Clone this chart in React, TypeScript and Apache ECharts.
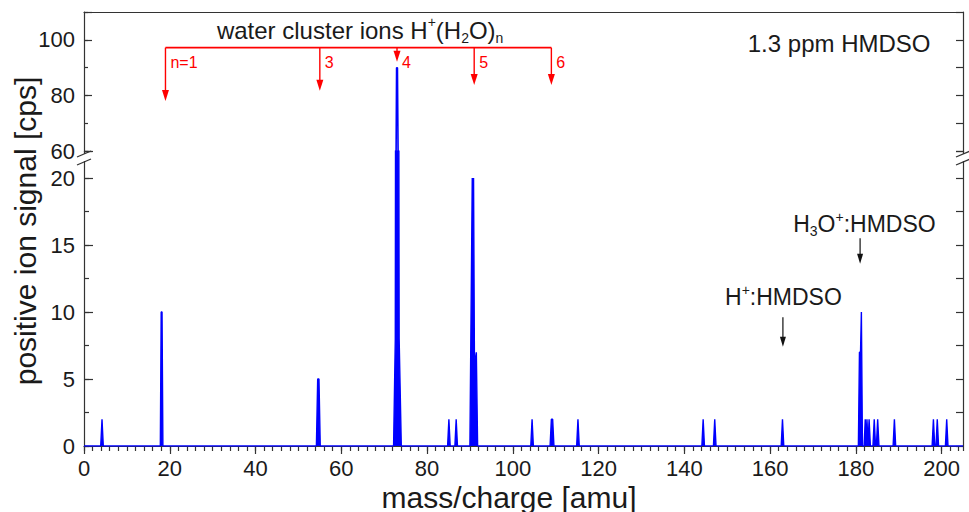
import React, { useEffect, useRef } from 'react';
import * as echarts from 'echarts';

// Spectrum: mass/charge [amu] and positive ion signal [cps]
const massPoints = [
  0, 3.9, 4.2, 4.5, 17.8, 18.0, 18.2, 18.4, 54.2, 54.5, 54.8, 55.1,
  72.2, 72.6, 72.9, 73.1, 73.5, 74.0, 84.8, 85.1, 85.4, 86.5, 86.8, 87.1,
  90.0, 90.55, 90.7, 90.85, 91.05, 91.3, 91.5, 91.8, 104.2, 104.5, 104.8,
  108.7, 109.0, 109.3, 109.6, 114.9, 115.2, 115.5, 144.1, 144.4, 144.7,
  146.8, 147.1, 147.4, 162.6, 162.9, 163.2, 180.6, 180.85, 181.1, 181.3,
  181.55, 181.95, 182.2, 182.4, 182.6, 182.85, 183.1, 183.4, 184.0, 184.3,
  184.6, 184.8, 185.1, 185.4, 188.7, 189.0, 189.3, 197.8, 198.1, 198.4,
  198.7, 199.0, 199.3, 200.9, 201.2, 201.5, 205,
];
const signalPoints = [
  0, 0, 2, 0, 0, 10, 10, 0, 0, 5, 5, 0,
  0, 8, 90, 90, 8, 0, 0, 2, 0, 0, 2, 0,
  0, 20, 17, 20, 7, 6, 7, 0, 0, 2, 0,
  0, 2, 2, 0, 0, 2, 0, 0, 2, 0,
  0, 2, 0, 0, 2, 0, 0, 7, 7, 10,
  0, 0, 2, 0, 2, 0, 2, 0, 0, 2,
  0, 0, 2, 0, 0, 2, 0, 0, 2, 0,
  0, 2, 0, 0, 2, 0, 0,
];

// Water cluster annotation H+(H2O)n
const clusterMass = [19, 55, 73, 91, 109];
const clusterLabels = ['n=1', '3', '4', '5', '6'];
const clusterArrowTip = [78, 81.7, 92.1, 83.8, 83.8];
const clusterBracketLevel = 97.2;
const clusterLabelLevel = 92;

// HMDSO adduct annotations (lower panel)
const adductMass = [181, 163];
const adductArrowTop = [15.5, 9.6];
const adductArrowTip = [13.6, 7.4];
const adductLabelMass = [165.4, 149.5];
const adductLabelValue = [16.6, 11.1];
const adductLabels = ['H{sub|3}O{sup|+}:HMDSO', 'H{sup|+}:HMDSO'];

const FONT = "'Liberation Sans', Arial, sans-serif";
const AXIS_COLOR = '#333';
const TEXT_COLOR = '#1a1a1a';
const RED = '#ff0000';
const BLUE = '#0000ff';

export default function App() {
  const ref = useRef<HTMLDivElement>(null);

  useEffect(() => {
    if (!ref.current) return;
    const chart = echarts.init(ref.current, undefined, { renderer: 'svg' });
    const data = massPoints.map((m, i) => [m, signalPoints[i]]);

    const gridLeft = 84;
    const gridRight = 6;
    const upperTop = 12;
    const upperHeight = 139.2;
    const lowerTop = upperTop + upperHeight;
    const lowerHeight = 294.8;

    const labelStyle = { color: TEXT_COLOR, fontSize: 22, fontFamily: FONT };
    const lineStyle = { color: AXIS_COLOR, width: 1.2 };

    const option: any = {
      animation: false,
      backgroundColor: '#fff',
      textStyle: { fontFamily: FONT },
      grid: [
        { left: gridLeft, right: gridRight, top: upperTop, height: upperHeight },
        { left: gridLeft, right: gridRight, top: lowerTop, height: lowerHeight },
      ],
      xAxis: [
        {
          gridIndex: 0, type: 'value', min: 0, max: 205, position: 'top',
          axisLine: { show: true, lineStyle }, axisTick: { show: false },
          axisLabel: { show: false }, splitLine: { show: false },
        },
        {
          gridIndex: 1, type: 'value', min: 0, max: 205, interval: 20, position: 'bottom',
          axisLine: { show: true, lineStyle },
          axisTick: { show: true, length: 8, lineStyle },
          axisLabel: {
            ...labelStyle, margin: 11, showMaxLabel: false,
            formatter: (v: number) => (v % 20 === 0 ? String(v) : ''),
          },
          splitLine: { show: false },
        },
        {
          gridIndex: 1, type: 'value', min: 0, max: 205, interval: 2, position: 'bottom',
          axisLine: { show: false },
          axisTick: { show: true, length: 5, lineStyle },
          axisLabel: { show: false }, splitLine: { show: false },
        },
      ],
      yAxis: [
        {
          gridIndex: 0, type: 'value', min: 60, max: 110, interval: 20, position: 'left',
          axisLine: { show: true, lineStyle },
          axisTick: { show: true, inside: true, length: 8, lineStyle },
          axisLabel: {
            ...labelStyle, margin: 9,
            formatter: (v: number) => (v % 20 === 0 ? String(v) : ''),
          },
          splitLine: { show: false },
        },
        {
          gridIndex: 0, type: 'value', min: 60, max: 110, interval: 10, position: 'left',
          axisLine: { show: false },
          axisTick: { show: true, inside: true, length: 4, lineStyle },
          axisLabel: { show: false }, splitLine: { show: false },
        },
        {
          gridIndex: 0, type: 'value', min: 60, max: 110, interval: 10, position: 'right',
          axisLine: { show: true, lineStyle },
          axisTick: { show: true, inside: true, length: 7, lineStyle },
          axisLabel: { show: false }, splitLine: { show: false },
        },
        {
          gridIndex: 1, type: 'value', min: 0, max: 22, interval: 5, position: 'left',
          axisLine: { show: true, lineStyle },
          axisTick: { show: true, inside: true, length: 9, lineStyle },
          axisLabel: {
            ...labelStyle, margin: 9,
            formatter: (v: number) => (v % 5 === 0 ? String(v) : ''),
          },
          splitLine: { show: false },
        },
        {
          gridIndex: 1, type: 'value', min: 0, max: 22, interval: 2.5, position: 'left',
          axisLine: { show: false },
          axisTick: { show: true, inside: true, length: 5, lineStyle },
          axisLabel: { show: false }, splitLine: { show: false },
        },
        {
          gridIndex: 1, type: 'value', min: 0, max: 22, interval: 2.5, position: 'right',
          axisLine: { show: true, lineStyle },
          axisTick: { show: true, inside: true, length: 7, lineStyle },
          axisLabel: { show: false }, splitLine: { show: false },
        },
      ],
      series: [
        {
          type: 'line', xAxisIndex: 0, yAxisIndex: 0, data, symbol: 'none',
          lineStyle: { color: BLUE, width: 1.6 },
          clip: true, silent: true, z: 5,
        },
        {
          type: 'line', xAxisIndex: 1, yAxisIndex: 3, data, symbol: 'none',
          lineStyle: { color: BLUE, width: 1.4 }, areaStyle: { color: BLUE, opacity: 1 },
          clip: true, silent: true, z: 5,
        },
      ],
    };
    chart.setOption(option);

    const up = (m: number, v: number) =>
      chart.convertToPixel({ xAxisIndex: 0, yAxisIndex: 0 } as any, [m, v]) as number[];
    const lo = (m: number, v: number) =>
      chart.convertToPixel({ xAxisIndex: 1, yAxisIndex: 3 } as any, [m, v]) as number[];

    const g: any[] = [];
    const arrow = (x: number, y0: number, y1: number, color: string, w: number, hw: number, hh: number) => {
      g.push({
        type: 'line', z: 100, silent: true,
        shape: { x1: x, y1: y0, x2: x, y2: y1 - hh + 1 },
        style: { stroke: color, lineWidth: w },
      });
      g.push({
        type: 'polygon', z: 100, silent: true,
        shape: { points: [[x - hw / 2, y1 - hh], [x + hw / 2, y1 - hh], [x, y1]] },
        style: { fill: color },
      });
    };

    // Red bracket
    const b0 = up(clusterMass[0], clusterBracketLevel);
    const b1 = up(clusterMass[clusterMass.length - 1], clusterBracketLevel);
    g.push({
      type: 'line', z: 100, silent: true,
      shape: { x1: b0[0], y1: b0[1], x2: b1[0], y2: b1[1] },
      style: { stroke: RED, lineWidth: 1.6 },
    });
    clusterMass.forEach((m, i) => {
      const top = up(m, clusterBracketLevel);
      const tip = up(m, clusterArrowTip[i]);
      arrow(top[0], top[1], tip[1], RED, 1.4, 7, 11);
      const lp = up(m, clusterLabelLevel);
      g.push({
        type: 'text', z: 100, silent: true, x: lp[0] + 5, y: lp[1],
        style: {
          text: clusterLabels[i], fill: RED, fontSize: 16, fontFamily: FONT,
          align: 'left', verticalAlign: 'middle',
        },
      });
    });

    // Water cluster title
    const wt = up(31, 103.4);
    g.push({
      type: 'text', z: 100, silent: true, x: wt[0], y: wt[1],
      style: {
        text: 'water cluster ions H{sup|+}(H{sub|2}O){sub|n}',
        fill: TEXT_COLOR, fontSize: 24, fontFamily: FONT, lineHeight: 30,
        align: 'left', verticalAlign: 'middle',
        rich: {
          sup: { fontSize: 14, lineHeight: 14, verticalAlign: 'top', fill: TEXT_COLOR, fontFamily: FONT },
          sub: { fontSize: 14, lineHeight: 14, verticalAlign: 'bottom', fill: TEXT_COLOR, fontFamily: FONT },
        },
      },
    });

    // Concentration label
    const cl = up(154.8, 98.85);
    g.push({
      type: 'text', z: 100, silent: true, x: cl[0], y: cl[1],
      style: {
        text: '1.3 ppm HMDSO', fill: TEXT_COLOR, fontSize: 24, fontFamily: FONT,
        align: 'left', verticalAlign: 'middle',
      },
    });

    // Adduct annotations
    adductMass.forEach((m, i) => {
      const t0 = lo(m, adductArrowTop[i]);
      const t1 = lo(m, adductArrowTip[i]);
      arrow(t0[0], t0[1], t1[1], '#111', 1.2, 6, 10);
      const lp = lo(adductLabelMass[i], adductLabelValue[i]);
      g.push({
        type: 'text', z: 100, silent: true, x: lp[0], y: lp[1],
        style: {
          text: adductLabels[i], fill: TEXT_COLOR, fontSize: 23, fontFamily: FONT, lineHeight: 28,
          align: 'left', verticalAlign: 'middle',
          rich: {
            sup: { fontSize: 14, lineHeight: 14, verticalAlign: 'top', fill: TEXT_COLOR, fontFamily: FONT },
            sub: { fontSize: 14, lineHeight: 14, verticalAlign: 'bottom', fill: TEXT_COLOR, fontFamily: FONT },
          },
        },
      });
    });

    // Axis titles
    g.push({
      type: 'text', z: 100, silent: true, x: 509, y: 497,
      style: {
        text: 'mass/charge [amu]', fill: TEXT_COLOR, fontSize: 30, fontFamily: FONT,
        align: 'center', verticalAlign: 'middle',
      },
    });
    g.push({
      type: 'text', z: 100, silent: true, x: 25, y: 231, rotation: Math.PI / 2,
      style: {
        text: 'positive ion signal [cps]', fill: TEXT_COLOR, fontSize: 30, fontFamily: FONT,
        align: 'center', verticalAlign: 'middle',
      },
    });

    // Axis break marks on both sides
    const leftX = gridLeft;
    const rightX = 969 - gridRight;
    [leftX, rightX].forEach((ax) => {
      g.push({
        type: 'rect', z: 99, silent: true,
        shape: { x: ax - 4, y: 154, width: 8, height: 7 },
        style: { fill: '#fff' },
      });
      g.push({
        type: 'line', z: 100, silent: true,
        shape: { x1: ax - 7, y1: 157, x2: ax + 7, y2: 151 },
        style: { stroke: AXIS_COLOR, lineWidth: 1.3 },
      });
      g.push({
        type: 'line', z: 100, silent: true,
        shape: { x1: ax - 7, y1: 165, x2: ax + 7, y2: 159 },
        style: { stroke: AXIS_COLOR, lineWidth: 1.3 },
      });
    });

    chart.setOption({ graphic: g });

    return () => chart.dispose();
  }, []);

  return (
    <div
      ref={ref}
      style={{ position: 'fixed', left: 0, top: 0, width: 969, height: 512, background: '#fff' }}
    />
  );
}
